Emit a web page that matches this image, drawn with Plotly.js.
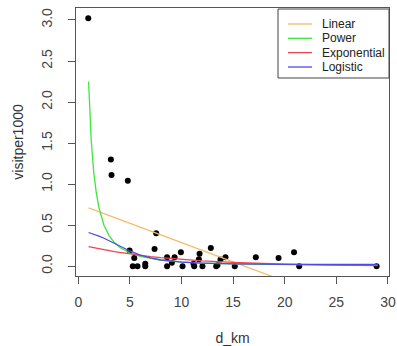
<!DOCTYPE html>
<html>
<head>
<meta charset="utf-8">
<script src="https://cdn.plot.ly/plotly-3.0.1.min.js"></script>
<style>html,body{margin:0;padding:0;background:#fff;}#chart{width:397px;height:346px;}</style>
</head>
<body>
<div id="chart"></div>
<script>
// Observed data (d_km vs visitper1000)
const dKm = [0.97, 3.16, 3.22, 4.8, 4.97, 5.28, 5.42, 5.74, 6.49, 6.49, 7.39, 7.55, 8.6, 8.6, 9.07, 9.33, 9.94, 10.1, 11.16, 11.23, 11.68, 11.75, 12.03, 12.84, 13.36, 13.48, 13.78, 14.26, 15.16, 17.2, 19.4, 20.9, 21.4, 28.9];
const visits = [3.02, 1.30, 1.11, 1.04, 0.19, 0.0, 0.10, 0.0, 0.03, 0.0, 0.21, 0.40, 0.11, 0.0, 0.04, 0.11, 0.17, 0.0, 0.03, 0.0, 0.085, 0.15, 0.0, 0.22, 0.0, 0.01, 0.08, 0.11, 0.0, 0.11, 0.10, 0.17, 0.0, 0.0];

// Fitted model curves at these distances
const curveX = [1.0, 1.25, 1.5, 1.75, 2.0, 2.5, 3.0, 3.5, 4.0, 5.0, 6.0, 7.0, 8.0, 10.0, 12.0, 15.0, 20.0, 25.0, 29.0];
const linearY = [0.71, 0.698, 0.687, 0.675, 0.663, 0.640, 0.616, 0.593, 0.569, 0.522, 0.475, 0.428, 0.381, 0.287, 0.193, 0.052, -0.183, -0.418, -0.606];
const powerY = [2.25, 1.54, 1.14, 0.89, 0.714, 0.496, 0.369, 0.287, 0.231, 0.160, 0.119, 0.093, 0.075, 0.052, 0.038, 0.027, 0.017, 0.012, 0.009];
const exponentialY = [0.239, 0.232, 0.226, 0.219, 0.212, 0.200, 0.188, 0.177, 0.167, 0.148, 0.131, 0.116, 0.103, 0.081, 0.064, 0.045, 0.024, 0.013, 0.008];
const logisticY = [0.41, 0.40, 0.39, 0.38, 0.365, 0.34, 0.31, 0.28, 0.245, 0.185, 0.135, 0.10, 0.075, 0.05, 0.038, 0.028, 0.022, 0.02, 0.02];

const seriesNames = ["Linear", "Power", "Exponential", "Logistic"];
const seriesColors = ["#F6BC6A", "#3FE63F", "#EE4450", "#4B4BE6"];

const FONT = "Liberation Sans, Arial, sans-serif";
const W = 397, H = 346;
const M = {l: 76, r: 8, t: 8, b: 70};
const PW = W - M.l - M.r, PH = H - M.t - M.b;
// pixel -> paper helpers (for the legend box only)
const px = v => (v - M.l) / PW;
const py = v => (H - M.b - v) / PH;

const traces = [{
  x: dKm, y: visits, type: "scatter", mode: "markers",
  marker: {color: "#000", size: 6}, showlegend: false
}];
[linearY, powerY, exponentialY, logisticY].forEach((ys, i) => {
  traces.push({
    x: curveX, y: ys, type: "scatter", mode: "lines", name: seriesNames[i],
    line: {color: seriesColors[i], width: 1.3}, showlegend: false
  });
});

// R-style legend box (top right)
const shapes = [{
  type: "rect", xref: "paper", yref: "paper",
  x0: px(278), x1: px(389), y0: py(78), y1: py(9),
  line: {color: "#444", width: 1}, fillcolor: "#fff", layer: "above"
}];
const annotations = [];
const rowY = [24, 38.3, 52.6, 67];
seriesNames.forEach((name, i) => {
  shapes.push({
    type: "line", xref: "paper", yref: "paper",
    x0: px(288), x1: px(312), y0: py(rowY[i]), y1: py(rowY[i]),
    line: {color: seriesColors[i], width: 1.3}, layer: "above"
  });
  annotations.push({
    xref: "paper", yref: "paper", x: px(320), y: py(rowY[i]),
    xanchor: "left", yanchor: "middle", showarrow: false, text: name,
    font: {family: FONT, size: 12, color: "#222"}
  });
});

const layout = {
  width: W, height: H,
  margin: M,
  paper_bgcolor: "#fff", plot_bgcolor: "#fff",
  font: {family: FONT, size: 13, color: "#333"},
  showlegend: false,
  shapes: shapes, annotations: annotations,
  xaxis: {
    range: [-0.22, 30.1], tickvals: [0, 5, 10, 15, 20, 25, 30],
    ticks: "outside", ticklen: 7, tickcolor: "#555", tickwidth: 1,
    showline: true, mirror: true, linecolor: "#555", linewidth: 1,
    showgrid: false, zeroline: false,
    tickfont: {family: FONT, size: 14, color: "#444"},
    ticklabelstandoff: 6,
    title: {text: "d_km", font: {family: FONT, size: 14, color: "#333"}, standoff: 24}
  },
  yaxis: {
    range: [-0.12, 3.146], tickvals: [0, 0.5, 1, 1.5, 2, 2.5, 3], tickformat: ".1f",
    tickangle: -90,
    ticks: "outside", ticklen: 7, tickcolor: "#555", tickwidth: 1,
    showline: true, mirror: true, linecolor: "#555", linewidth: 1,
    showgrid: false, zeroline: false,
    tickfont: {family: FONT, size: 14, color: "#444"},
    ticklabelstandoff: 10,
    title: {text: "visitper1000", font: {family: FONT, size: 14, color: "#333"}, standoff: 12}
  }
};

Plotly.newPlot("chart", traces, layout, {staticPlot: true, displayModeBar: false});
</script>
</body>
</html>
